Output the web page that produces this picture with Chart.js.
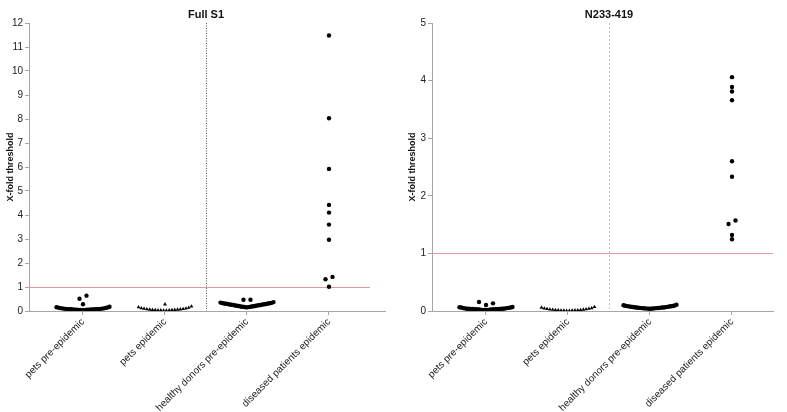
<!DOCTYPE html>
<html>
<head>
<meta charset="utf-8">
<script src="https://cdn.jsdelivr.net/npm/chart.js@4/dist/chart.umd.min.js"></script>
<style>
	html, body { margin: 0; padding: 0; background: #fff; }
	#wrap { position: relative; width: 787px; height: 412px; }
	#left { position: absolute; left: 0; top: 0; width: 395px; height: 412px; }
	#right { position: absolute; left: 400px; top: 0; width: 387px; height: 412px; }
</style>
</head>
<body>
<div id="wrap">
	<div id="left"><canvas id="full-s1"></canvas></div>
	<div id="right"><canvas id="n233"></canvas></div>
</div>
<script>
const groups = ['pets pre-epidemic', 'pets epidemic', 'healthy donors pre-epidemic', 'diseased patients epidemic']

// Full S1
const fullPetsPre = [0.03, 0.03, 0.04, 0.04, 0.04, 0.05, 0.05, 0.05, 0.05, 0.06, 0.06, 0.06, 0.07, 0.07, 0.07, 0.08, 0.08, 0.08, 0.09, 0.09, 0.10, 0.10, 0.11, 0.11, 0.12, 0.13, 0.14, 0.15, 0.16, 0.18, 0.28, 0.51, 0.64]
const fullPetsEpi = [0.02, 0.02, 0.03, 0.03, 0.03, 0.04, 0.04, 0.05, 0.05, 0.06, 0.06, 0.07, 0.08, 0.09, 0.10, 0.11, 0.12, 0.14, 0.16, 0.19, 0.28]
const fullHealthy = [0.15, 0.16, 0.17, 0.17, 0.18, 0.19, 0.19, 0.20, 0.21, 0.21, 0.22, 0.23, 0.23, 0.24, 0.25, 0.25, 0.26, 0.27, 0.27, 0.28, 0.29, 0.29, 0.30, 0.31, 0.31, 0.32, 0.33, 0.34, 0.35, 0.37, 0.47, 0.47]
const fullDiseased = [11.48, 8.03, 5.92, 4.42, 4.10, 3.60, 2.97, 1.42, 1.32, 1.01]

// N233-419
const nPetsPre = [0.02, 0.02, 0.02, 0.02, 0.02, 0.025, 0.025, 0.025, 0.025, 0.03, 0.03, 0.03, 0.03, 0.03, 0.035, 0.035, 0.035, 0.04, 0.04, 0.04, 0.04, 0.045, 0.045, 0.05, 0.05, 0.055, 0.06, 0.06, 0.065, 0.07, 0.104, 0.133, 0.156]
const nPetsEpi = [0.005, 0.005, 0.008, 0.01, 0.01, 0.012, 0.015, 0.015, 0.018, 0.02, 0.022, 0.025, 0.028, 0.03, 0.035, 0.04, 0.045, 0.05, 0.06, 0.07]
const nHealthy = [0.04, 0.04, 0.042, 0.044, 0.045, 0.046, 0.048, 0.05, 0.05, 0.052, 0.054, 0.055, 0.057, 0.06, 0.06, 0.062, 0.065, 0.067, 0.07, 0.072, 0.075, 0.077, 0.08, 0.082, 0.085, 0.088, 0.09, 0.095, 0.10, 0.11]
const nDiseased = [4.06, 3.89, 3.81, 3.66, 2.60, 2.33, 1.57, 1.51, 1.32, 1.245]

const threshold = 1
const dividerAt = 2.5
const thresholdEnd = 4.5

const font = "'Liberation Sans', Arial, sans-serif"
Chart.defaults.font.family = font
Chart.defaults.color = '#222'

// prism-like scatter: sorted values grouped in rows, each row spread center-out
function swarm(chart) {
	const xs = chart.scales.x
	const ys = chart.scales.y
	const pxPerX = xs.getPixelForValue(1) - xs.getPixelForValue(0)
	chart.data.datasets.forEach((ds, i) => {
		const sorted = ds.values.slice().sort((a, b) => a - b)
		const rows = []
		let row = null, startPx = 0, prevPx = 0
		sorted.forEach(v => {
			const py = ys.getPixelForValue(v)
			if (!row || (startPx - py > 4 && prevPx - py > 1.5)) {
				row = []
				rows.push(row)
				startPx = py
			}
			row.push(v)
			prevPx = py
		})
		ds.data = []
		rows.forEach(r => {
			const n = r.length
			const step = n > 1 ? Math.min(7, 53 / (n - 1)) : 0
			r.forEach((v, k) => {
				let slot
				if (n % 2) slot = (k % 2 ? 1 : -1) * Math.ceil(k / 2)
				else slot = (k % 2 ? 1 : -1) * (Math.floor(k / 2) + 0.5)
				ds.data.push({x: i + 1 + slot * step / pxPerX, y: v})
			})
		})
	})
	chart.update('none')
}

const decor = {
	id: 'decor',
	beforeDatasetsDraw(chart, args, opts) {
		const {ctx, chartArea, scales} = chart
		const y1 = scales.y.getPixelForValue(threshold)
		ctx.save()
		ctx.strokeStyle = '#dc9c9c'
		ctx.lineWidth = 1
		ctx.beginPath()
		ctx.moveTo(chartArea.left, Math.round(y1) + 0.5)
		ctx.lineTo(scales.x.getPixelForValue(thresholdEnd), Math.round(y1) + 0.5)
		ctx.stroke()
		const xd = Math.round(scales.x.getPixelForValue(dividerAt)) + 0.5
		ctx.strokeStyle = opts.dividerColor
		ctx.setLineDash(opts.dividerDash)
		ctx.beginPath()
		ctx.moveTo(xd, chartArea.top)
		ctx.lineTo(xd, chartArea.bottom)
		ctx.stroke()
		ctx.restore()
	},
	afterDraw(chart, args, opts) {
		const {ctx, scales} = chart
		ctx.save()
		ctx.fillStyle = '#111'
		ctx.font = 'bold 11px ' + font
		ctx.textAlign = 'center'
		ctx.textBaseline = 'middle'
		ctx.fillText(opts.title, scales.x.getPixelForValue(dividerAt), 15)
		ctx.restore()
	}
}

function makeChart(id, title, sets, yMax, xMax, padLeft, padRight, yWidth, dividerColor, dividerDash) {
	const datasets = sets.map((values, i) => ({
		values: values,
		data: [],
		pointStyle: i === 1 ? 'triangle' : 'circle',
		pointRadius: 2.2,
		pointBorderWidth: 0,
		backgroundColor: '#000',
		borderColor: '#000'
	}))
	const chart = new Chart(id, {
		type: 'scatter',
		data: { datasets: datasets },
		options: {
			responsive: true,
			maintainAspectRatio: false,
			animation: false,
			layout: { padding: { top: 23, left: padLeft, right: padRight, bottom: 0 } },
			plugins: {
				legend: { display: false },
				tooltip: { enabled: false },
				decor: { title: title, dividerColor: dividerColor, dividerDash: dividerDash }
			},
			scales: {
				x: {
					type: 'linear',
					min: 0.3415,
					max: xMax,
					afterBuildTicks: (scale) => { scale.ticks = groups.map((g, i) => ({ value: i + 1 })) },
					afterFit: (scale) => { scale.height = 101 },
					border: { color: '#a6a6a6', width: 1 },
					grid: { drawOnChartArea: false, drawTicks: true, tickLength: 4, color: '#a6a6a6' },
					ticks: {
						autoSkip: false,
						minRotation: 45,
						maxRotation: 45,
						padding: 1,
						font: { size: 10 },
						callback: (v) => groups[v - 1]
					}
				},
				y: {
					min: 0,
					max: yMax,
					afterFit: (scale) => { scale.width = yWidth },
					border: { color: '#a6a6a6', width: 1 },
					grid: { drawOnChartArea: false, drawTicks: true, tickLength: 4, color: '#a6a6a6' },
					ticks: { stepSize: 1, padding: 2, font: { size: 10 } },
					title: { display: true, text: 'X-fold threshold', font: { size: 9, weight: 'bold' }, padding: 0, color: '#111' }
				}
			}
		},
		plugins: [decor]
	})
	swarm(chart)
	return chart
}

makeChart('full-s1', 'Full S1', [fullPetsPre, fullPetsEpi, fullHealthy, fullDiseased], 12, 4.683, 5, 10, 24, '#555', [1, 1.5])
makeChart('n233', 'N233-419', [nPetsPre, nPetsEpi, nHealthy, nDiseased], 5, 4.50, 7, 14, 25, '#c4c4c4', [2, 2])
</script>
</body>
</html>
